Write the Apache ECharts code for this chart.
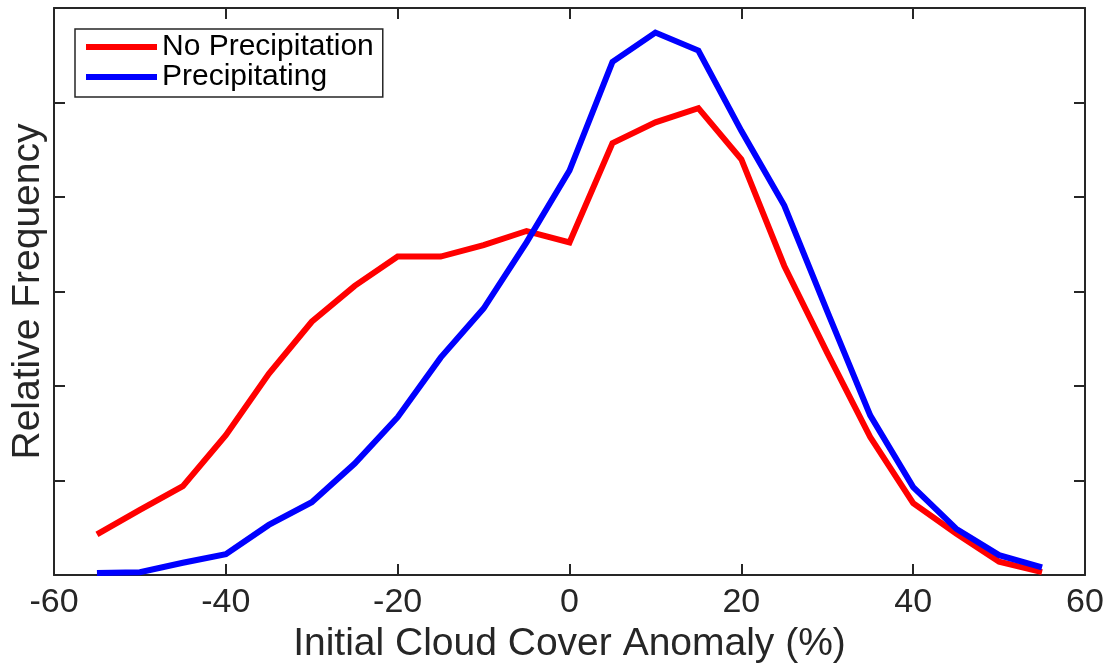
<!DOCTYPE html>
<html>
<head>
<meta charset="utf-8">
<script src="https://cdn.jsdelivr.net/npm/echarts@6/dist/echarts.min.js"></script>
<style>
  html, body { margin: 0; padding: 0; background: #fff; }
  #chart { width: 1112px; height: 664px; }
</style>
</head>
<body>
<div id="chart"></div>
<script>
// Bin centres of the initial cloud cover anomaly (%)
const anomaly = [-55, -50, -45, -40, -35, -30, -25, -20, -15, -10, -5, 0,
                 5, 10, 15, 20, 25, 30, 35, 40, 45, 50, 55];

// Relative frequency (arbitrary units) for each bin
const noPrecip = [0.43, 0.69, 0.94, 1.48, 2.13, 2.68, 3.06, 3.37, 3.37, 3.49, 3.64, 3.52,
                  4.57, 4.79, 4.94, 4.40, 3.27, 2.35, 1.46, 0.76, 0.44, 0.14, 0.03];
const precip   = [0.02, 0.03, 0.13, 0.22, 0.53, 0.77, 1.18, 1.67, 2.30, 2.82, 3.52, 4.28,
                  5.43, 5.74, 5.55, 4.70, 3.91, 2.79, 1.69, 0.93, 0.49, 0.21, 0.08];

const seriesNames = ['No Precipitation', 'Precipitating'];
const xTitle = 'Initial Cloud Cover Anomaly (%)';
const yTitle = 'Relative Frequency';

const ink = '#262626';
const font = 'Liberation Sans, Arial, Helvetica, sans-serif';

const pairs = (ys) => anomaly.map((x, i) => [x, ys[i]]);

const boxAxisLine = { show: true, onZero: false, lineStyle: { color: ink, width: 2 } };
const innerTicks = { show: true, inside: true, length: 11, lineStyle: { color: ink, width: 2 } };

const chart = echarts.init(document.getElementById('chart'), null, { renderer: 'canvas' });
chart.setOption({
  animation: false,
  backgroundColor: '#fff',
  grid: { left: 54, right: 27, top: 8, bottom: 89, containLabel: false, outerBoundsMode: 'none' },
  legend: {
    orient: 'vertical',
    left: 75, top: 29,
    align: 'left',
    data: seriesNames,
    icon: 'rect',
    itemWidth: 71, itemHeight: 6,
    itemGap: 0,
    itemTextGap: 5,
    padding: [3, 9, 5, 11],
    borderColor: ink, borderWidth: 1.5,
    backgroundColor: '#fff',
    textStyle: { color: '#000', fontFamily: font, fontSize: 30, lineHeight: 29 }
  },
  xAxis: [
    {
      type: 'value', position: 'bottom', min: -60, max: 60, interval: 20,
      axisLine: boxAxisLine, axisTick: innerTicks, splitLine: { show: false },
      axisLabel: { color: ink, fontFamily: font, fontSize: 34, margin: 11 },
      name: xTitle, nameLocation: 'middle', nameGap: 41,
      nameTextStyle: { color: ink, fontFamily: font, fontSize: 39 }
    },
    {
      type: 'value', position: 'top', min: -60, max: 60, interval: 20,
      axisLine: boxAxisLine, axisTick: innerTicks, splitLine: { show: false },
      axisLabel: { show: false }
    }
  ],
  yAxis: [
    {
      type: 'value', position: 'left', min: 0, max: 6, interval: 1,
      axisLine: boxAxisLine, axisTick: innerTicks, splitLine: { show: false },
      axisLabel: { show: false },
      name: yTitle, nameLocation: 'middle', nameGap: 6, nameRotate: 90,
      nameTextStyle: { color: ink, fontFamily: font, fontSize: 39 }
    },
    {
      type: 'value', position: 'right', min: 0, max: 6, interval: 1,
      axisLine: boxAxisLine, axisTick: innerTicks, splitLine: { show: false },
      axisLabel: { show: false }
    }
  ],
  series: [
    {
      name: seriesNames[0], type: 'line', data: pairs(noPrecip),
      showSymbol: false, symbol: 'none', color: '#ff0000',
      lineStyle: { color: '#ff0000', width: 6, join: 'miter', cap: 'butt' }
    },
    {
      name: seriesNames[1], type: 'line', data: pairs(precip),
      showSymbol: false, symbol: 'none', color: '#0000ff',
      lineStyle: { color: '#0000ff', width: 6, join: 'miter', cap: 'butt' }
    }
  ]
});
</script>
</body>
</html>
